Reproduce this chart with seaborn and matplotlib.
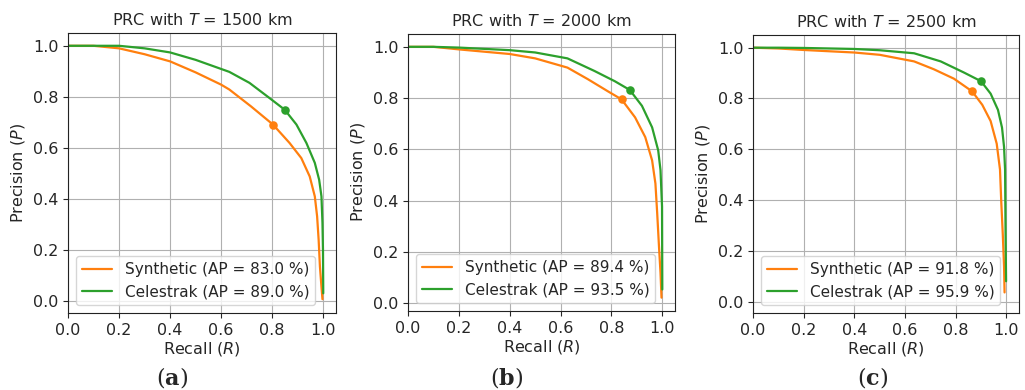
import matplotlib
matplotlib.use("Agg")
import matplotlib.pyplot as plt
import seaborn as sns

# ---------------- data ----------------
thresholds = ["1500", "2000", "2500"]
captions = ["a", "b", "c"]
syn_ap = ["83.0", "89.4", "91.8"]
cel_ap = ["89.0", "93.5", "95.9"]

# Panel (a) T = 1500 km
recall_a_syn = [0, 0.1, 0.2, 0.3, 0.4, 0.5, 0.6, 0.632, 0.717, 0.803, 0.868, 0.914, 0.947, 0.967, 0.976, 0.982, 0.987, 0.993, 0.997]
precision_a_syn = [1.0, 1.0, 0.99, 0.967, 0.939, 0.896, 0.848, 0.829, 0.763, 0.692, 0.62, 0.561, 0.489, 0.411, 0.333, 0.241, 0.137, 0.058, 0.009]
recall_a_cel = [0, 0.1, 0.2, 0.3, 0.4, 0.5, 0.632, 0.711, 0.789, 0.849, 0.895, 0.934, 0.967, 0.984, 0.993, 0.997, 0.999, 1.0]
precision_a_cel = [1.0, 1.0, 1.0, 0.99, 0.974, 0.945, 0.898, 0.855, 0.796, 0.750, 0.692, 0.62, 0.542, 0.476, 0.411, 0.307, 0.20, 0.032]

# Panel (b) T = 2000 km
recall_b_syn = [0, 0.1, 0.2, 0.4, 0.5, 0.627, 0.707, 0.787, 0.84, 0.893, 0.933, 0.96, 0.973, 0.98, 0.987, 0.993, 0.997]
precision_b_syn = [1.0, 1.0, 0.99, 0.972, 0.955, 0.919, 0.874, 0.826, 0.795, 0.725, 0.648, 0.557, 0.467, 0.351, 0.222, 0.119, 0.022]
recall_b_cel = [0, 0.1, 0.2, 0.4, 0.5, 0.627, 0.733, 0.813, 0.872, 0.92, 0.96, 0.984, 0.993, 0.999, 1.0]
precision_b_cel = [1.0, 1.0, 0.997, 0.987, 0.978, 0.955, 0.906, 0.866, 0.832, 0.77, 0.686, 0.596, 0.519, 0.377, 0.054]

# Panel (c) T = 2500 km
recall_c_syn = [0, 0.1, 0.2, 0.4, 0.5, 0.636, 0.714, 0.793, 0.865, 0.905, 0.938, 0.962, 0.975, 0.98, 0.986, 0.991, 0.993]
precision_c_syn = [1.0, 0.997, 0.991, 0.981, 0.972, 0.946, 0.915, 0.878, 0.828, 0.775, 0.711, 0.622, 0.52, 0.392, 0.265, 0.138, 0.036]
recall_c_cel = [0, 0.1, 0.2, 0.4, 0.5, 0.636, 0.741, 0.833, 0.9, 0.938, 0.967, 0.983, 0.991, 0.995, 0.997, 0.999]
precision_c_cel = [1.0, 1.0, 0.999, 0.995, 0.99, 0.978, 0.946, 0.902, 0.868, 0.819, 0.755, 0.685, 0.609, 0.52, 0.265, 0.08]

# operating points (markers)
op_syn_recall = [0.803, 0.84, 0.865]
op_syn_precision = [0.692, 0.795, 0.828]
op_cel_recall = [0.849, 0.872, 0.9]
op_cel_precision = [0.750, 0.832, 0.868]

syn_recalls = [recall_a_syn, recall_b_syn, recall_c_syn]
syn_precisions = [precision_a_syn, precision_b_syn, precision_c_syn]
cel_recalls = [recall_a_cel, recall_b_cel, recall_c_cel]
cel_precisions = [precision_a_cel, precision_b_cel, precision_c_cel]

# ---------------- style ----------------
sns.set_style("ticks")
plt.rcParams["font.family"] = ["DejaVu Sans"]
plt.rcParams["font.size"] = 11.5
plt.rcParams["axes.edgecolor"] = "#222222"

ORANGE = "#ff7f0e"
GREEN = "#2ca02c"
FS = 11.5

fig = plt.figure(figsize=(10.25, 3.9), dpi=100)

positions = [
    [68 / 1025, 77 / 390, 268 / 1025, 280 / 390],
    [408 / 1025, 79 / 390, 267 / 1025, 277 / 390],
    [753 / 1025, 77 / 390, 266 / 1025, 278 / 390],
]
caption_x = [172 / 1025, 507 / 1025, 873 / 1025]

for i in range(3):
    ax = fig.add_axes(positions[i])
    sns.lineplot(x=syn_recalls[i], y=syn_precisions[i], ax=ax, color=ORANGE,
                 sort=False, estimator=None, linewidth=1.6,
                 label=f"Synthetic (AP = {syn_ap[i]} %)")
    sns.lineplot(x=cel_recalls[i], y=cel_precisions[i], ax=ax, color=GREEN,
                 sort=False, estimator=None, linewidth=1.6,
                 label=f"Celestrak (AP = {cel_ap[i]} %)")
    sns.scatterplot(x=[op_syn_recall[i]], y=[op_syn_precision[i]], ax=ax,
                    color=ORANGE, s=38, linewidth=0, zorder=5)
    sns.scatterplot(x=[op_cel_recall[i]], y=[op_cel_precision[i]], ax=ax,
                    color=GREEN, s=38, linewidth=0, zorder=5)
    ax.set_xlim(0, 1.05)
    ax.set_ylim(-0.045 if i != 1 else -0.03, 1.05)
    ax.set_xticks([0, 0.2, 0.4, 0.6, 0.8, 1.0])
    ax.set_yticks([0, 0.2, 0.4, 0.6, 0.8, 1.0])
    ax.grid(True, color="#b0b0b0", linewidth=0.8)
    ax.set_axisbelow(True)
    ax.set_title(f"PRC with $T$ = {thresholds[i]} km", fontsize=FS)
    ax.set_xlabel("Recall ($R$)", fontsize=FS, labelpad=2)
    ax.set_ylabel("Precision ($P$)", fontsize=FS)
    ax.tick_params(labelsize=FS)
    leg = ax.legend(loc="lower left", fontsize=11, frameon=True,
                    labelspacing=0.45)
    leg.get_frame().set_edgecolor("#cccccc")
    fig.text(caption_x[i], 13 / 390, f"($\\mathbf{{{captions[i]}}}$)",
             ha="center", va="center", fontsize=16, family="DejaVu Serif",
             math_fontfamily="dejavuserif")

fig.savefig("out.png", dpi=100)
